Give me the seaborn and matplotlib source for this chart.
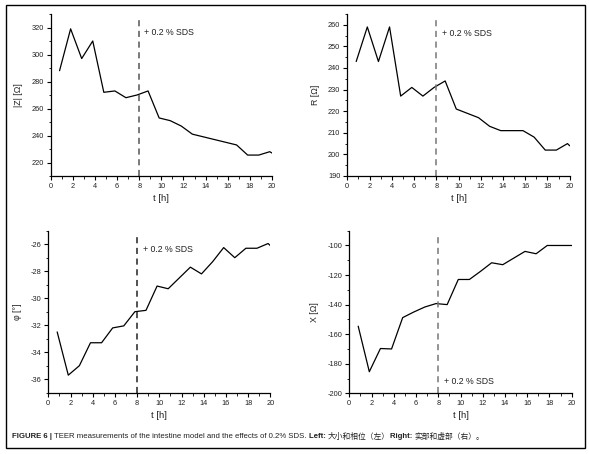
import numpy as np
import pandas as pd
import matplotlib
matplotlib.use("Agg")
import matplotlib.pyplot as plt
import seaborn as sns
from matplotlib.ticker import MultipleLocator, AutoMinorLocator

# measurement times [h]
t_hours = [0.8, 1.8, 2.8, 3.8, 4.8, 5.8, 6.8, 7.8, 8.8, 9.8,
           10.8, 11.8, 12.8, 13.8, 14.8, 15.8, 16.8, 17.8, 18.8, 19.8, 20.0]

# impedance magnitude |Z| [Ohm]
z_abs = [288, 319, 297, 310, 272, 273, 268, 270, 273, 253,
         251, 247, 241, 239, 237, 235, 233, 225.5, 225.5, 228, 227]
# phase [deg]
phase = [-32.5, -35.7, -35.0, -33.3, -33.3, -32.2, -32.05, -31.0, -30.9, -29.1,
         -29.3, -28.5, -27.7, -28.2, -27.3, -26.25, -27.0, -26.3, -26.3, -25.95, -26.1]
# real part R [Ohm]
real_r = [243, 259, 243, 259, 227, 231, 227, 231, 234, 221,
          219, 217, 213, 211, 211, 211, 208, 202, 202, 205, 204]
# imaginary part X [Ohm]
imag_x = [-154.6, -185.4, -169.7, -170, -148.8, -145, -141.6, -139.3, -140, -123,
          -123, -117.5, -111.7, -113, -108.5, -104, -105.6, -100, -100, -100, -100]

SDS_TIME = 8
SDS_LABEL = "+ 0.2 % SDS"

df = pd.DataFrame({"t": t_hours, "Z": z_abs, "phi": phase, "R": real_r, "X": imag_x})

sns.set_theme(style="ticks")
plt.rcParams['font.family'] = ['Liberation Sans', 'Noto Sans CJK SC', 'DejaVu Sans']
plt.rcParams['axes.unicode_minus'] = False

W, H = 589, 454
fig = plt.figure(figsize=(W / 100, H / 100), dpi=100)


def px_axes(left, top, right, bottom):
    return fig.add_axes([left / W, 1 - bottom / H, (right - left) / W, (bottom - top) / H])


# (column, ylabel, ylim, ymajor, axes box in px, vline color, text xy)
panels = [
    ("Z", "|Z| [Ω]", (210, 330), 20, (50.7, 14, 272, 176), "#555555", (8.4, 316)),
    ("R", "R [Ω]", (190, 265), 10, (347.3, 14, 569.7, 176), "#777777", (8.5, 256)),
    ("phi", "φ [°]", (-37, -25), 2, (48.3, 230.7, 270.3, 392.7), "#222222", (8.5, -26.4)),
    ("X", "X [Ω]", (-200, -90), 20, (349.3, 230.7, 571.7, 393.3), "#777777", (8.5, -191.7)),
]

for col, ylab, ylim, ymaj, box, vcol, txy in panels:
    ax = px_axes(*box)
    sns.lineplot(data=df, x="t", y=col, ax=ax, color="black", linewidth=0.9)
    ax.axvline(SDS_TIME, ymax=0.96, color=vcol, linestyle=(0, (4, 3)), linewidth=1.1)
    ax.text(txy[0], txy[1], SDS_LABEL, fontsize=6.3, va="center", ha="left", color="#222222")
    ax.set_xlim(0, 20)
    ax.set_ylim(*ylim)
    ax.xaxis.set_major_locator(MultipleLocator(2))
    ax.xaxis.set_minor_locator(AutoMinorLocator(2))
    ax.yaxis.set_major_locator(MultipleLocator(ymaj))
    ax.yaxis.set_minor_locator(AutoMinorLocator(2))
    ax.tick_params(which="major", direction="out", length=3, width=0.8, labelsize=5.3,
                   pad=2, color="black", labelcolor="#222222")
    ax.tick_params(which="minor", direction="out", length=1.8, width=0.6, color="black")
    ax.set_xlabel("t [h]", fontsize=6.8, labelpad=3, color="#222222")
    ax.set_ylabel(ylab, fontsize=6.3, labelpad=6, color="#222222")
    for s in ("top", "right"):
        ax.spines[s].set_visible(False)
    for s in ("left", "bottom"):
        ax.spines[s].set_linewidth(0.9)
        ax.spines[s].set_color("black")
    ax.set_facecolor("white")

# outer frame
frame = plt.Rectangle((6 / W, 1 - 448 / H), (585 - 6) / W, (448 - 5) / H,
                      transform=fig.transFigure, fill=False, edgecolor="black", linewidth=1.0)
fig.add_artist(frame)

# caption built from pieces so some words can be bold
caption = [
    ("FIGURE 6 | ", "bold"),
    ("TEER measurements of the intestine model and the effects of 0.2% SDS. ", "normal"),
    ("Left: ", "bold"),
    ("大小和相位（左）", "normal"),
    ("Right: ", "bold"),
    ("实部和虚部（右）。", "normal"),
]
renderer = fig.canvas.get_renderer()
x_px = 12
y_cap = 1 - 437 / H
for txt, weight in caption:
    tx = fig.text(x_px / W, y_cap, txt, fontsize=5.6, fontweight=weight,
                  va="center", ha="left", color="#222222")
    bb = tx.get_window_extent(renderer=renderer)
    x_px += bb.width

fig.savefig("out.png", dpi=100, facecolor="white")
